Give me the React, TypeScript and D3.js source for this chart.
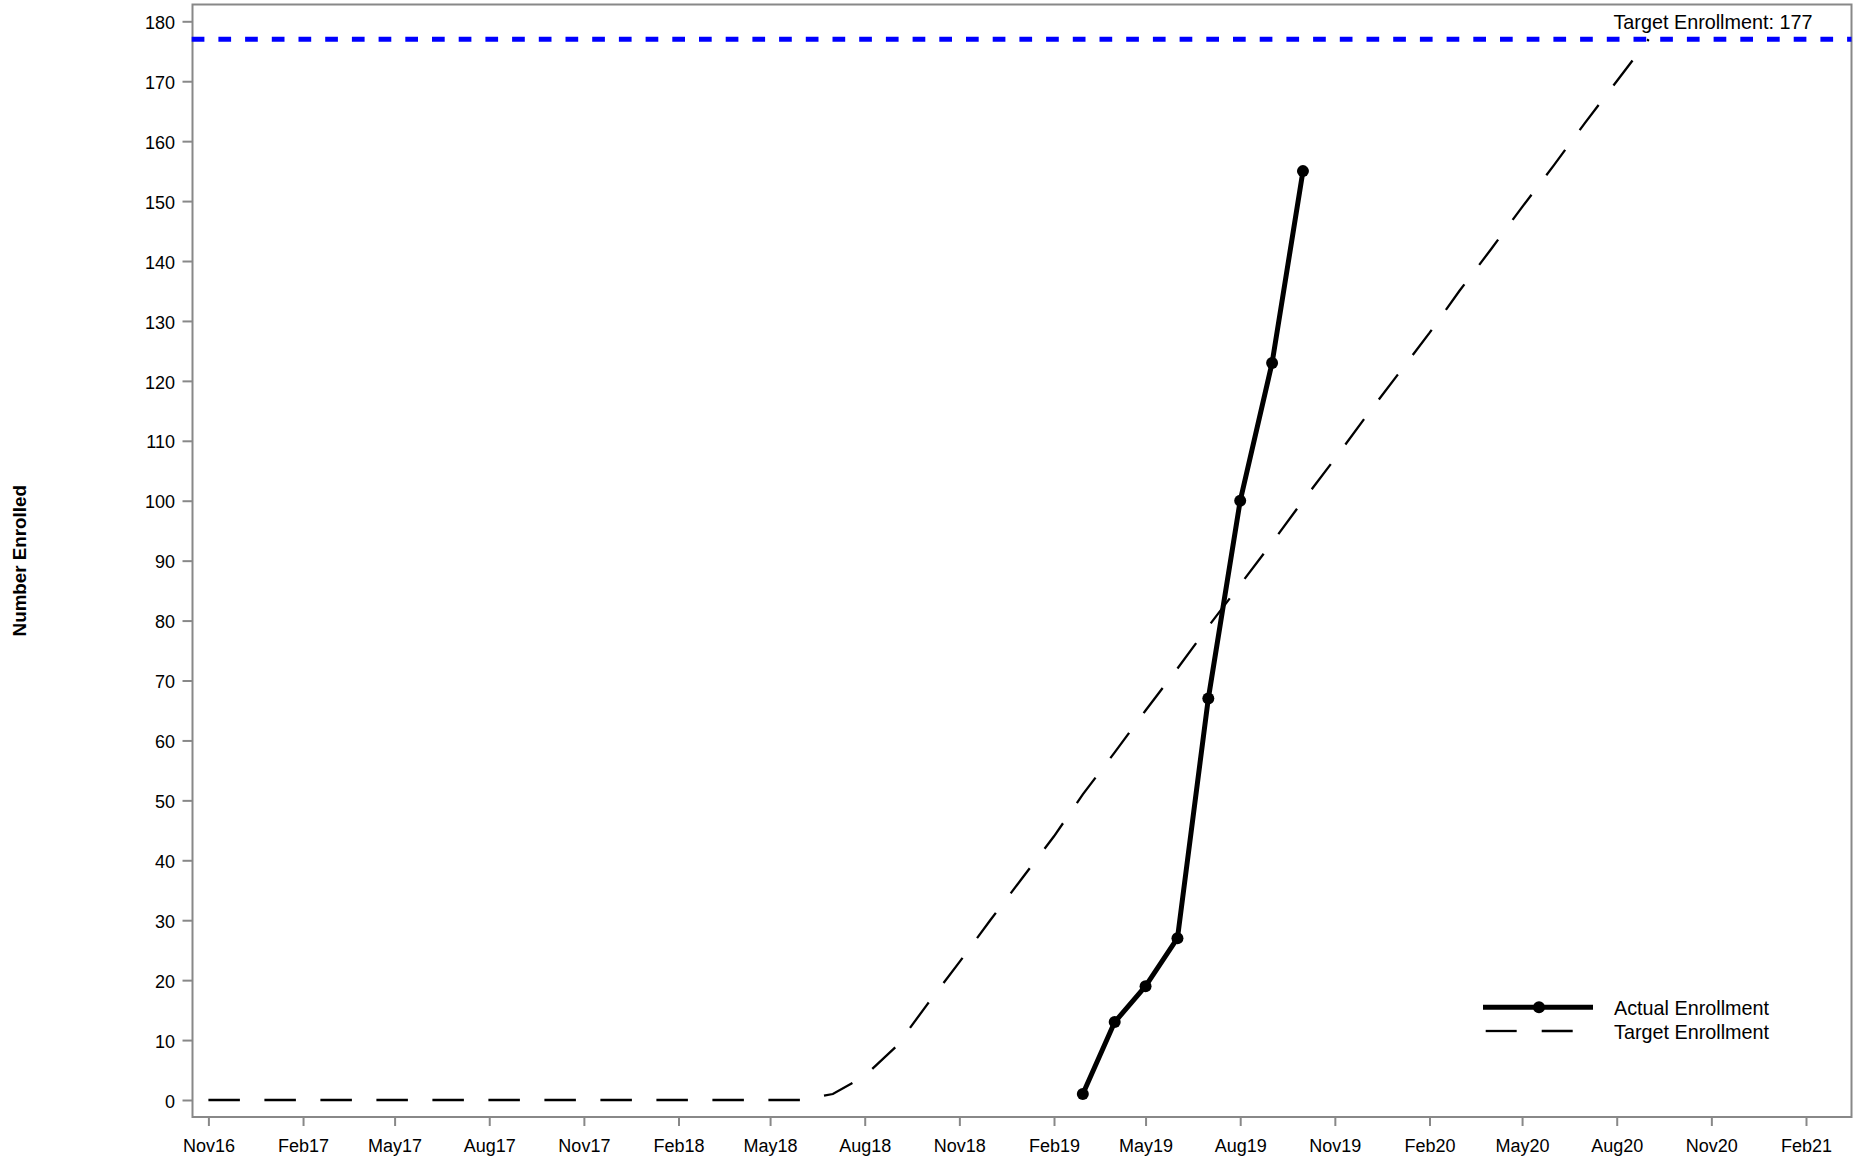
import React, { useEffect, useRef } from "react";
import * as d3 from "d3";

// Monthly enrollment data (month, count)
const actualMonths = [
  "2019-03", "2019-04", "2019-05", "2019-06",
  "2019-07", "2019-08", "2019-09", "2019-10",
];
const actualValues = [1, 13, 19, 27, 67, 100, 123, 155];

const targetMonths = [
  "2016-11", "2016-12",
  "2017-01", "2017-02", "2017-03", "2017-04", "2017-05", "2017-06",
  "2017-07", "2017-08", "2017-09", "2017-10", "2017-11", "2017-12",
  "2018-01", "2018-02", "2018-03", "2018-04", "2018-05", "2018-06",
  "2018-07", "2018-08", "2018-09", "2018-10", "2018-11", "2018-12",
  "2019-01", "2019-02", "2019-03", "2019-04", "2019-05", "2019-06",
  "2019-07", "2019-08", "2019-09", "2019-10", "2019-11", "2019-12",
  "2020-01", "2020-02", "2020-03", "2020-04", "2020-05", "2020-06",
  "2020-07", "2020-08", "2020-09",
];
const targetValues = [
  0, 0,
  0, 0, 0, 0, 0, 0, 0, 0, 0, 0, 0, 0,
  0, 0, 0, 0, 0, 0, 1, 4, 9, 16, 23, 30,
  37, 44, 51, 58, 65, 72, 79, 86, 93, 100, 107, 114,
  121, 128, 135, 142, 149, 156, 163, 170, 177,
];

const targetTotal = 177;

const xTickMonths = [
  "2016-11", "2017-02", "2017-05", "2017-08", "2017-11", "2018-02",
  "2018-05", "2018-08", "2018-11", "2019-02", "2019-05", "2019-08",
  "2019-11", "2020-02", "2020-05", "2020-08", "2020-11", "2021-02",
];
const yTicks = [0, 10, 20, 30, 40, 50, 60, 70, 80, 90, 100, 110, 120, 130, 140, 150, 160, 170, 180];

const seriesNames = ["Actual Enrollment", "Target Enrollment"];

const FONT = "'Liberation Sans', Arial, sans-serif";

const EnrollmentChart: React.FC = () => {
  const ref = useRef<SVGSVGElement>(null);

  useEffect(() => {
    if (!ref.current) return;
    const svg = d3.select(ref.current);
    svg.selectAll("*").remove();

    const width = 1857;
    const height = 1157;
    const frame = { left: 192.5, right: 1851.5, top: 4.5, bottom: 1117 };
    const parse = d3.timeParse("%Y-%m");

    const actual = actualMonths.map((m, i) => ({ date: parse(m) as Date, value: actualValues[i] }));
    const target = targetMonths.map((m, i) => ({ date: parse(m) as Date, value: targetValues[i] }));
    const ticks = xTickMonths.map((m) => parse(m) as Date);

    svg.attr("width", width).attr("height", height).style("font-family", FONT);

    const x = d3
      .scaleTime()
      .domain([ticks[0], ticks[ticks.length - 1]])
      .range([208.4, 1806]);

    const y = d3.scaleLinear().domain([0, 180]).range([1100, 21.3]);

    // X axis
    const xAxis = svg
      .append("g")
      .attr("transform", `translate(0,${frame.bottom})`)
      .call(
        d3
          .axisBottom<Date>(x)
          .tickValues(ticks)
          .tickSize(9)
          .tickPadding(13)
          .tickFormat(d3.timeFormat("%b%y"))
      );
    xAxis.select(".domain").remove();
    xAxis.selectAll("line").attr("stroke", "#888").attr("stroke-width", 2);
    xAxis
      .selectAll("text")
      .style("font-size", "18px")
      .style("font-family", FONT)
      .attr("fill", "#000");

    // Y axis
    const yAxis = svg
      .append("g")
      .attr("transform", `translate(${frame.left},0)`)
      .call(d3.axisLeft(y).tickValues(yTicks).tickSize(10).tickPadding(7.5));
    yAxis.select(".domain").remove();
    yAxis.selectAll("line").attr("stroke", "#888").attr("stroke-width", 2);
    yAxis
      .selectAll("text")
      .attr("dy", "0.4em")
      .style("font-size", "18px")
      .style("font-family", FONT)
      .attr("fill", "#000");

    // Frame
    svg
      .append("rect")
      .attr("x", frame.left)
      .attr("y", frame.top)
      .attr("width", frame.right - frame.left)
      .attr("height", frame.bottom - frame.top)
      .attr("fill", "none")
      .attr("stroke", "#888")
      .attr("stroke-width", 2);

    // Y label
    svg
      .append("text")
      .attr("transform", `translate(26,${(frame.top + frame.bottom) / 2}) rotate(-90)`)
      .attr("text-anchor", "middle")
      .style("font-size", "18.8px")
      .style("font-weight", "bold")
      .attr("fill", "#000")
      .text("Number Enrolled");

    const line = d3
      .line<{ date: Date; value: number }>()
      .x((d) => x(d.date))
      .y((d) => y(d.value));

    // Target curve
    svg
      .append("path")
      .datum(target)
      .attr("d", line)
      .attr("fill", "none")
      .attr("stroke", "#000")
      .attr("stroke-width", 2.3)
      .attr("stroke-dasharray", "31.5,24.5");

    // Target reference line
    svg
      .append("line")
      .attr("x1", frame.left - 0.8)
      .attr("x2", frame.right)
      .attr("y1", y(targetTotal))
      .attr("y2", y(targetTotal))
      .attr("stroke", "#0000ff")
      .attr("stroke-width", 5)
      .attr("stroke-dasharray", "12.7,14");

    svg
      .append("text")
      .attr("x", frame.right - 39)
      .attr("y", y(targetTotal) - 10)
      .attr("text-anchor", "end")
      .style("font-size", "19.8px")
      .attr("fill", "#000")
      .text(`Target Enrollment: ${targetTotal}`);

    // Actual line + markers
    svg
      .append("path")
      .datum(actual)
      .attr("d", line)
      .attr("fill", "none")
      .attr("stroke", "#000")
      .attr("stroke-width", 5)
      .attr("stroke-linejoin", "round");

    svg
      .selectAll(".pt")
      .data(actual)
      .enter()
      .append("circle")
      .attr("class", "pt")
      .attr("cx", (d) => x(d.date))
      .attr("cy", (d) => y(d.value))
      .attr("r", 6)
      .attr("fill", "#000");

    // Legend
    const lg = svg.append("g").attr("transform", "translate(1483,1007.3)");
    lg.append("line")
      .attr("x1", 0)
      .attr("x2", 110)
      .attr("y1", 0)
      .attr("y2", 0)
      .attr("stroke", "#000")
      .attr("stroke-width", 5);
    lg.append("circle").attr("cx", 56).attr("cy", 0).attr("r", 6).attr("fill", "#000");
    lg.append("text")
      .attr("x", 131)
      .attr("y", 7.7)
      .style("font-size", "19.8px")
      .attr("fill", "#000")
      .text(seriesNames[0]);

    lg.append("line")
      .attr("x1", 2.7)
      .attr("x2", 108)
      .attr("y1", 23.7)
      .attr("y2", 23.7)
      .attr("stroke", "#000")
      .attr("stroke-width", 2.3)
      .attr("stroke-dasharray", "31,25");
    lg.append("text")
      .attr("x", 131)
      .attr("y", 31.4)
      .style("font-size", "19.8px")
      .attr("fill", "#000")
      .text(seriesNames[1]);
  }, []);

  return <svg ref={ref} style={{ display: "block" }} />;
};

export default function App() {
  return (
    <div style={{ position: "absolute", left: 0, top: 0, background: "#fff" }}>
      <EnrollmentChart />
    </div>
  );
}
